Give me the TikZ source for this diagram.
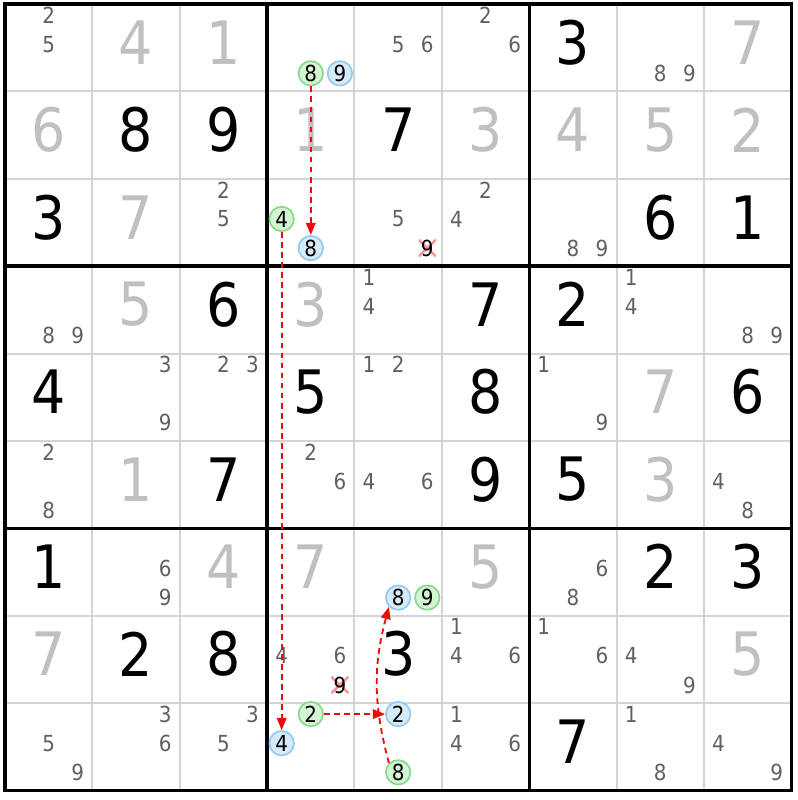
\documentclass[tikz,border=0pt]{standalone}
\usepackage{fontspec}
\setmainfont{DejaVu Sans Condensed}
\usetikzlibrary{arrows.meta}
\definecolor{solvedgray}{RGB}{192,192,192}
\definecolor{candgray}{RGB}{96,96,96}
\definecolor{gridgray}{RGB}{212,212,212}
\definecolor{greenfill}{RGB}{212,245,212}
\definecolor{greenline}{RGB}{135,218,135}
\definecolor{bluefill}{RGB}{214,234,250}
\definecolor{blueline}{RGB}{148,200,245}
\definecolor{linkred}{RGB}{238,10,10}
\definecolor{crosspink}{RGB}{244,150,150}
\tikzset{
	given/.style={inner sep=0pt, font=\fontsize{19.5}{21}\selectfont, text=black},
	solved/.style={given, text=solvedgray},
	cand/.style={inner sep=0pt, font=\fontsize{7.2}{8}\selectfont, text=candgray},
	greencand/.style={cand, circle, text=black, fill=greenfill, draw=greenline, line width=0.55pt, minimum size=0.28cm},
	bluecand/.style={cand, circle, text=black, fill=bluefill, draw=blueline, line width=0.55pt, minimum size=0.28cm},
	deadcand/.style={cand, text=black, minimum width=0.2cm, minimum height=0.19cm,
		path picture={\draw[crosspink, line width=0.8pt] (path picture bounding box.south west) -- (path picture bounding box.north east) (path picture bounding box.north west) -- (path picture bounding box.south east);}},
	link/.style={linkred, line width=0.6pt, dash pattern=on 0.065cm off 0.05cm, -{Triangle[length=1.4mm, width=1.1mm]}}
}
\begin{document}
\begin{tikzpicture}
		\path[fill=white, use as bounding box] (-0.057,0.046) rectangle (9.068,-9.11);
		% grid
		\foreach \i in {0,...,9} {
			\draw[gridgray, line width=0.65pt] (\i,0) -- (\i,-9);
			\draw[gridgray, line width=0.65pt] (0,-\i) -- (9,-\i);
		}
		\foreach \i in {0,3,6,9} {
			\draw[black, line width=1.1pt] (\i,0.02) -- (\i,-9.02);
			\draw[black, line width=1.1pt] (-0.02,-\i) -- (9.02,-\i);
		}
		% big digits
		\foreach \r/\c/\d/\s in {1/2/4/solved, 1/3/1/solved, 1/7/3/given, 1/9/7/solved,
			2/1/6/solved, 2/2/8/given, 2/3/9/given, 2/4/1/solved, 2/5/7/given, 2/6/3/solved, 2/7/4/solved, 2/8/5/solved, 2/9/2/solved,
			3/1/3/given, 3/2/7/solved, 3/8/6/given, 3/9/1/given,
			4/2/5/solved, 4/3/6/given, 4/4/3/solved, 4/6/7/given, 4/7/2/given,
			5/1/4/given, 5/4/5/given, 5/6/8/given, 5/8/7/solved, 5/9/6/given,
			6/2/1/solved, 6/3/7/given, 6/6/9/given, 6/7/5/given, 6/8/3/solved,
			7/1/1/given, 7/3/4/solved, 7/4/7/solved, 7/6/5/solved, 7/8/2/given, 7/9/3/given,
			8/1/7/solved, 8/2/2/given, 8/3/8/given, 8/5/3/given, 8/9/5/solved,
			9/7/7/given} {
			\node[\s] (v\r\c) at (\c-0.5,-\r+0.5+0.06) {\d};
		}
		% candidates
		\foreach \r/\c/\d/\s in {1/1/2/cand, 1/1/5/cand, 1/4/8/greencand, 1/4/9/bluecand, 1/5/5/cand, 1/5/6/cand, 1/6/2/cand, 1/6/6/cand, 1/8/8/cand, 1/8/9/cand,
			3/3/2/cand, 3/3/5/cand, 3/4/4/greencand, 3/4/8/bluecand, 3/5/5/cand, 3/5/9/deadcand, 3/6/2/cand, 3/6/4/cand, 3/7/8/cand, 3/7/9/cand,
			4/1/8/cand, 4/1/9/cand, 4/5/1/cand, 4/5/4/cand, 4/8/1/cand, 4/8/4/cand, 4/9/8/cand, 4/9/9/cand,
			5/2/3/cand, 5/2/9/cand, 5/3/2/cand, 5/3/3/cand, 5/5/1/cand, 5/5/2/cand, 5/7/1/cand, 5/7/9/cand,
			6/1/2/cand, 6/1/8/cand, 6/4/2/cand, 6/4/6/cand, 6/5/4/cand, 6/5/6/cand, 6/9/4/cand, 6/9/8/cand,
			7/2/6/cand, 7/2/9/cand, 7/5/8/bluecand, 7/5/9/greencand, 7/7/6/cand, 7/7/8/cand,
			8/4/4/cand, 8/4/6/cand, 8/4/9/deadcand, 8/6/1/cand, 8/6/4/cand, 8/6/6/cand, 8/7/1/cand, 8/7/6/cand, 8/8/4/cand, 8/8/9/cand,
			9/1/5/cand, 9/1/9/cand, 9/2/3/cand, 9/2/6/cand, 9/3/3/cand, 9/3/5/cand, 9/4/2/greencand, 9/4/4/bluecand, 9/5/2/bluecand, 9/5/8/greencand,
			9/6/1/cand, 9/6/4/cand, 9/6/6/cand, 9/8/1/cand, 9/8/8/cand, 9/9/4/cand, 9/9/9/cand} {
			\pgfmathsetmacro\cx{\c-1+(mod(\d-1,3)+0.5)/3}
			\pgfmathsetmacro\cy{-(\r-1)-(floor((\d-1)/3)+0.5)/3+0.04}
			\node[\s] (c\r\c\d) at (\cx,\cy) {\d};
		}
		% links
		\draw[link] (c148.south) -- (c348.north);
		\draw[link] (c344.south) -- (c944.north);
		\draw[link] (c942.east) -- (c952.west);
		\draw[link] (c958.135) to[out=105, in=-105] (c758.-135);
	\end{tikzpicture}
\end{document}
